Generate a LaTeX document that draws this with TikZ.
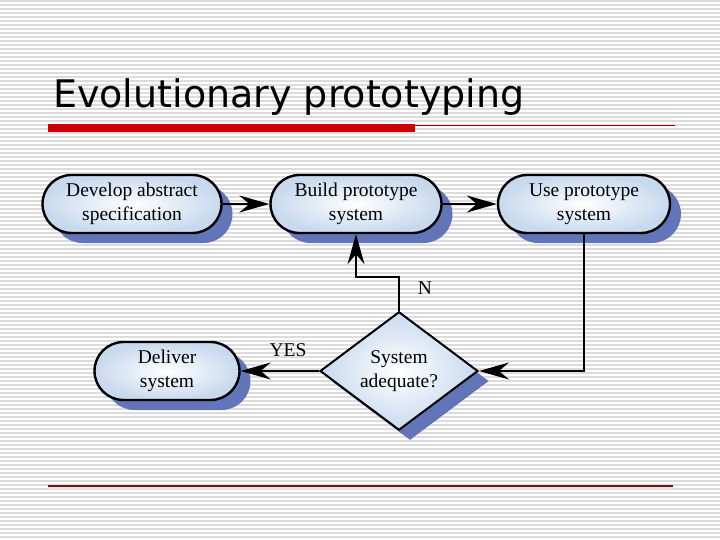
\documentclass[tikz,border=0pt]{standalone}
\usepackage{fontspec}
\setmainfont{Liberation Serif}
\newfontfamily\ttlfont{DejaVu Sans}
\usepackage{xcolor}
\usepackage{tikz}
\usetikzlibrary{arrows.meta,shapes.geometric,shadows}
\definecolor{stripec}{HTML}{DCDCDC}
\definecolor{barc}{HTML}{CC0000}
\definecolor{rulec}{HTML}{5A1E1E}
\definecolor{pinkc}{HTML}{F5D8D8}
\definecolor{boxc}{HTML}{C8D9EE}
\definecolor{shdc}{HTML}{6175B8}
\tikzset{
  ar/.style={-{Stealth[length=30pt,width=17pt,inset=10pt]},line width=2pt,black},
  shd/.style={drop shadow={shadow xshift=11pt,shadow yshift=-10pt,fill=shdc,opacity=1}},
  box/.style={draw=black,line width=2.4pt,rounded corners=29pt,minimum height=58pt,
    inner color=white,outer color=boxc,shd,align=center,
    font=\fontsize{19.5}{23.5}\selectfont},
  dec/.style={diamond,draw=black,line width=2pt,minimum width=158pt,minimum height=112pt,
    inner sep=0pt,inner color=white,outer color=boxc,shd,align=center,
    font=\fontsize{19.5}{23.5}\selectfont},
  lbl/.style={font=\fontsize{19.5}{23.5}\selectfont}
}
\begin{document}
\begin{tikzpicture}[x=1pt,y=-1pt]
\useasboundingbox (0,0) rectangle (720,540);
\fill[white] (0,0) rectangle (720,540);
\foreach \y in {0,4,...,536}
  \draw[stripec,line width=1.2pt] (0,\y+1)--(720,\y+1);
\node[anchor=base west,inner sep=0pt,font=\ttlfont\fontsize{38}{40}\selectfont] (ttl) at (53,108) {Evolutionary prototyping};
\fill[barc] (48,124) rectangle (415,132);
\draw[barc!80!black,line width=0.8pt] (415,125.5)--(675,125.5);
\draw[pinkc,line width=2.5pt] (48,488)--(673,488);
\draw[rulec,line width=1.5pt] (48,486)--(673,486);

\node[box,minimum width=179pt] (dev) at (132,204) {Develop abstract\\specification};
\node[box,minimum width=171pt] (build) at (356,204) {Build prototype\\system};
\node[box,minimum width=172pt] (use) at (584,204) {Use prototype\\system};
\node[box,minimum width=145pt] (dlv) at (167,371) {Deliver\\system};
\node[dec] (adq) at (399,371) {System\\adequate?};

\draw[ar] (dev) -- (build);
\draw[ar] (build) -- (use);
\draw[ar] (use.south) |- (adq.east);
\draw[ar] (adq.north) -- ++(0,-34) -| (build.south);
\draw[ar] (adq.west) -- (dlv.east);
\node[lbl] (yes) at (288,350) {YES};
\node[lbl] (no) at (425,288) {N};
\end{tikzpicture}
\end{document}
